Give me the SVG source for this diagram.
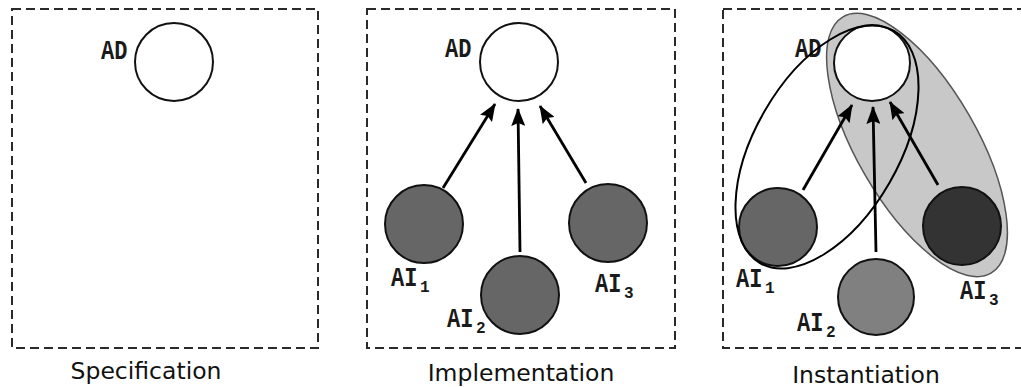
<svg xmlns="http://www.w3.org/2000/svg" width="1021" height="387" viewBox="0 0 1021 387">
<style>
.frame{fill:none;stroke:#2a2a2a;stroke-width:2;stroke-dasharray:9 5}
.ad{fill:#fff;stroke:#111;stroke-width:2}
.ai{fill:#666;stroke:#111;stroke-width:2}
.lbl{font-family:"Liberation Mono",monospace;font-weight:bold;font-size:22px;fill:#1a1a1a}
.sub{font-family:"Liberation Mono",monospace;font-weight:bold;font-size:16px;fill:#1a1a1a}
.cap{font-family:"DejaVu Sans",sans-serif;font-size:23.5px;fill:#111;text-anchor:middle}
.arr{stroke:#000;stroke-width:2.8;fill:none;marker-end:url(#ah)}
</style>
<defs>
<marker id="ah" markerUnits="userSpaceOnUse" markerWidth="18" markerHeight="14" refX="17" refY="7" orient="auto">
<path d="M0,0 L18,7 L0,14 L3,7 z" fill="#000"/>
</marker>
</defs>
<rect width="1021" height="387" fill="#fff"/>

<g id="panel-spec">
<rect class="frame" x="12" y="9" width="306" height="339"/>
<text class="cap" x="146" y="379">Specification</text>
</g>
<g id="spec-AD">
<circle class="ad" cx="174" cy="62" r="39"/>
<text class="lbl" transform="translate(101 59) scale(1 1.25)">AD</text>
</g>

<g id="panel-impl">
<rect class="frame" x="367" y="9" width="308" height="339"/>
<text class="cap" x="521" y="381">Implementation</text>
</g>

<g id="panel-inst">
<rect class="frame" x="723" y="9" width="310" height="339"/>
<text class="cap" x="866" y="383">Instantiation</text>
</g>
<g id="inst-group-gray">
<ellipse cx="917" cy="145" rx="148" ry="60" transform="rotate(60 917 145)" fill="#c8c8c8" stroke="#555" stroke-width="1.5"/>
</g>

<g id="connectors">
<line class="arr" x1="443" y1="188" x2="495" y2="104"/>
<line class="arr" x1="520" y1="252" x2="518" y2="109"/>
<line class="arr" x1="586" y1="183" x2="540" y2="106"/>
<line class="arr" x1="803" y1="190" x2="852" y2="105"/>
<line class="arr" x1="876" y1="252" x2="873" y2="107"/>
<line class="arr" x1="938" y1="185" x2="890" y2="102"/>
</g>

<g id="impl-AD">
<circle class="ad" cx="519" cy="62" r="39"/>
<text class="lbl" transform="translate(445 57) scale(1 1.25)">AD</text>
</g>
<g id="impl-AI1">
<circle class="ai" cx="424" cy="224" r="39"/>
<text class="lbl" transform="translate(391 286) scale(1 1.25)">AI</text>
<text class="sub" x="420" y="292">1</text>
</g>
<g id="impl-AI2">
<circle class="ai" cx="520" cy="295" r="39"/>
<text class="lbl" transform="translate(447 327) scale(1 1.25)">AI</text>
<text class="sub" x="476" y="333">2</text>
</g>
<g id="impl-AI3">
<circle class="ai" cx="608" cy="223" r="39"/>
<text class="lbl" transform="translate(595 292) scale(1 1.25)">AI</text>
<text class="sub" x="624" y="298">3</text>
</g>

<g id="inst-AD">
<circle class="ad" cx="872" cy="63" r="38"/>
<text class="lbl" transform="translate(795 57) scale(1 1.25)">AD</text>
</g>
<g id="inst-AI1">
<circle class="ai" cx="778" cy="227" r="39"/>
<text class="lbl" transform="translate(736 287) scale(1 1.25)">AI</text>
<text class="sub" x="765" y="293">1</text>
</g>
<g id="inst-AI2">
<circle class="ai" cx="876" cy="297" r="38" style="fill:#808080"/>
<text class="lbl" transform="translate(797 331) scale(1 1.25)">AI</text>
<text class="sub" x="826" y="337">2</text>
</g>
<g id="inst-AI3">
<circle class="ai" cx="962" cy="226" r="39" style="fill:#333"/>
<text class="lbl" transform="translate(960 299) scale(1 1.25)">AI</text>
<text class="sub" x="989" y="305">3</text>
</g>
<g id="inst-group-black">
<ellipse cx="827" cy="147" rx="134" ry="72" transform="rotate(-60 827 147)" fill="none" stroke="#000" stroke-width="2"/>
</g>
</svg>
